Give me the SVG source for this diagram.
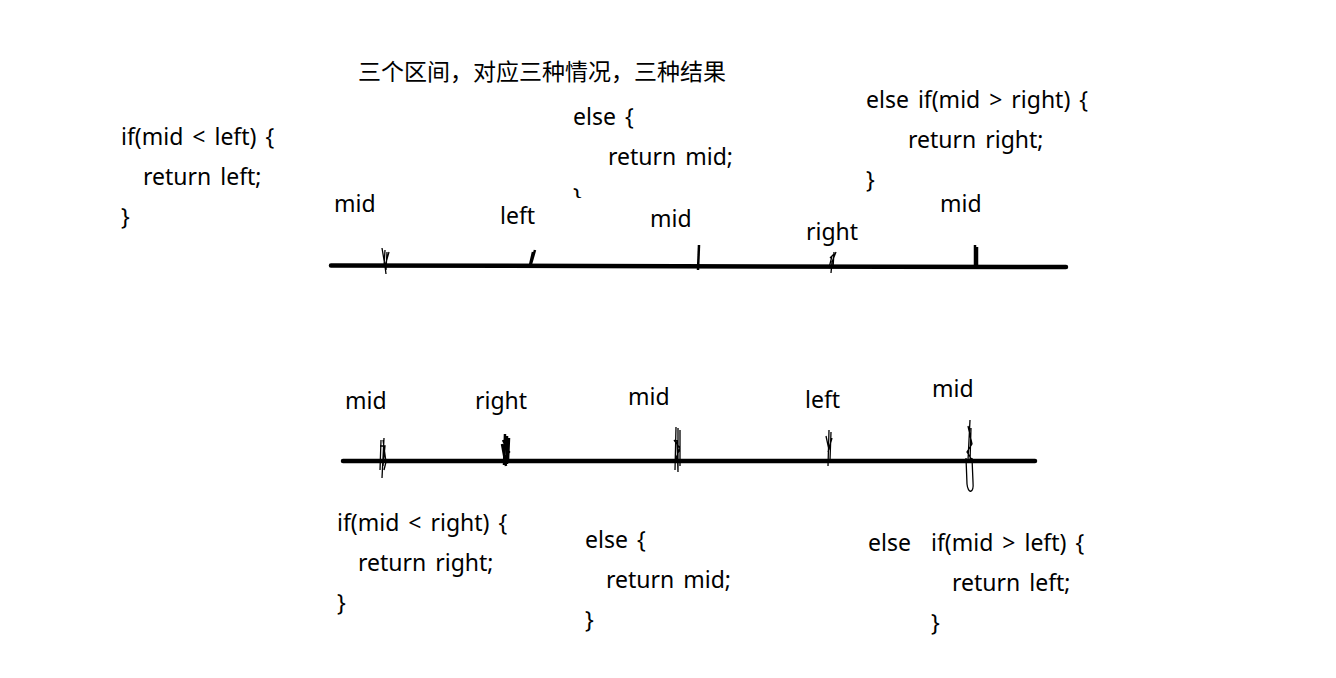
<svg xmlns="http://www.w3.org/2000/svg" width="1336" height="678" viewBox="0 0 1336 678">
<style>
text{font-family:"Noto Sans","Noto Sans CJK SC",sans-serif;font-size:23px;fill:#000;word-spacing:3px}
.axis{stroke:#000;stroke-width:4.5;stroke-linecap:round;fill:none}
.tick{stroke:#000;stroke-width:1.3;fill:none}
.tickb{stroke:#000;stroke-width:2.5;fill:none}
</style>
<defs><clipPath id="cb"><rect x="570" y="186" width="14" height="12"/></clipPath></defs>
<rect width="1336" height="678" fill="#fff"/>
<g id="title"><text x="358" y="80" style="word-spacing:0">三个区间，对应三种情况，三种结果</text></g>
<g id="code-top-left"><text x="121" y="145">if(mid &lt; left) {</text><text x="143" y="185">return left;</text><text x="121" y="225">}</text></g>
<g id="code-top-mid"><text x="573" y="125">else {</text><text x="608" y="165">return mid;</text><text x="573" y="205" clip-path="url(#cb)">}</text></g>
<g id="code-top-right"><text x="866" y="108">else if(mid &gt; right) {</text><text x="908" y="148">return right;</text><text x="866" y="188">}</text></g>
<g id="code-bot-left"><text x="337" y="531">if(mid &lt; right) {</text><text x="358" y="571">return right;</text><text x="337" y="611">}</text></g>
<g id="code-bot-mid"><text x="585" y="548">else {</text><text x="606" y="588">return mid;</text><text x="585" y="628">}</text></g>
<g id="code-bot-right"><text x="868" y="551">else</text><text x="931" y="551">if(mid &gt; left) {</text><text x="952" y="591">return left;</text><text x="931" y="631">}</text></g>
<g id="labels-top"><text x="334" y="212">mid</text><text x="500" y="224">left</text><text x="650" y="227">mid</text><text x="806" y="240">right</text><text x="940" y="212">mid</text></g>
<g id="labels-bot"><text x="345" y="409">mid</text><text x="475" y="409">right</text><text x="628" y="405">mid</text><text x="805" y="408">left</text><text x="932" y="397">mid</text></g>
<g id="connectors">
<path class="axis" d="M331 265.5 L1066 267"/>
<path class="axis" d="M343 461 L1035 461"/>
<path class="tick" d="M382 248 L385 266 L386 274 M385 250 L384 266 M387 252 L386 270 M389 252 L385 266"/>
<path class="tickb" d="M535 250 L531 264 M533 252 L530 265"/>
<path class="tickb" d="M699 245 L698 270"/>
<path class="tick" d="M836 252 L832 262 L831 273 M834 252 L833 268 M830 258 L834 254 M832 256 L829 268"/>
<path class="tickb" d="M975 245 L975 266 M977 247 L977 266"/>
<path class="tick" d="M384 438 L382 478 M381 440 L380 470 M383 440 L386 462 L384 470 M380 446 L385 446 L383 466"/>
<path class="tickb" d="M505 434 L504 465 M507 436 L507 464 M503 440 L509 452 L503 462 M509 438 L508 460 M502 444 L506 466"/>
<path class="tick" d="M676 427 L675 470 M678 428 L678 470 M680 430 L680 466 M674 440 L680 448 L676 458 L680 462 M677 440 L678 472"/>
<path class="tick" d="M829 430 L828 466 M831 432 L830 460 M826 436 L829 450 M832 438 L828 452"/>
<path class="tick" d="M970 420 L968 460 M968 426 L972 444 L967 452 L972 460 M971 428 L970 462 M966 458 L967 484 C968 494 974 494 973 482 L972 458"/>
</g>
</svg>
